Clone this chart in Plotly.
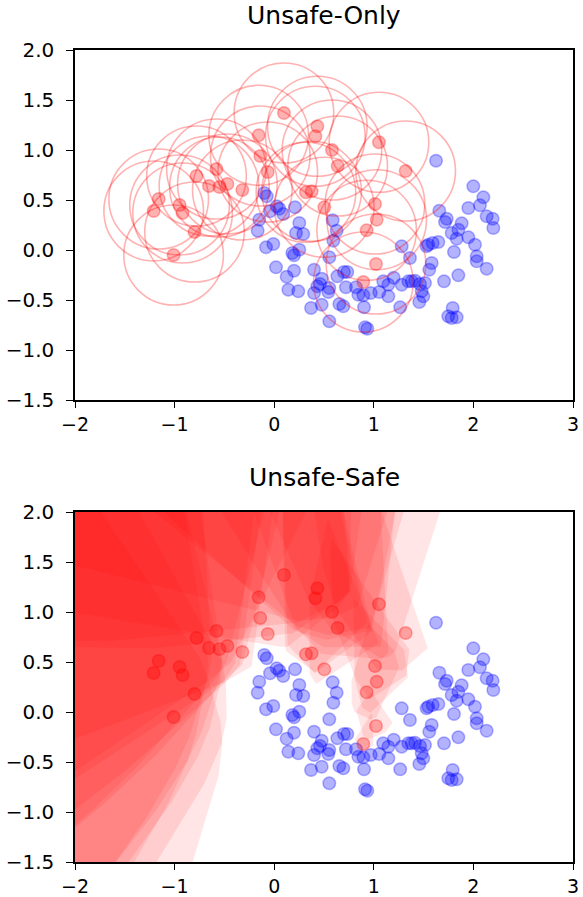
import numpy as np
import plotly.graph_objects as go

# ---------------- data ----------------
red_x = [0.098, 0.433, 0.413, -0.156, 0.58, 1.052, -0.14, 0.637, -0.065, 1.32,
         -0.58, -0.78, -0.655, -0.55, -0.47, -0.32, -1.16, -1.21, -0.95, -0.92,
         -0.80, -1.01, 0.319, 0.376, 0.503, 1.012, 1.029, 0.928, 1.022, 0.895]
red_y = [1.37, 1.237, 1.137, 1.147, 1.0, 1.077, 0.94, 0.84, 0.78, 0.79,
         0.81, 0.74, 0.64, 0.63, 0.66, 0.60, 0.51, 0.39, 0.45, 0.37,
         0.18, -0.05, 0.577, 0.587, 0.427, 0.46, 0.303, 0.197, -0.14, -0.32]

blue_x = [-0.10, -0.075, 0.025, 0.051, 0.209, -0.042, 0.091, -0.15, 0.252, 0.587,
          -0.166, 0.219, 0.292, 0.627, 0.594, -0.009, -0.082, 0.252, 0.182, 0.199,
          0.553, 0.018, 0.199, 0.40, 0.125, 0.477, 0.634, 0.70, 0.734, 0.46,
          0.433, 0.553, 0.543, 0.142, 0.242, 0.40, 0.72, 0.821, 0.845, 0.895,
          0.969, 1.095, 1.146, 1.20, 1.055, 1.146, 0.902, 0.477, 0.37, 0.654,
          0.694, 0.553, 0.912, 0.935, 1.265, 1.28,
          1.625, 1.999, 2.10, 1.949, 2.066, 1.658, 2.133, 2.193, 2.20, 1.732,
          1.715, 1.882, 1.849, 1.782, 1.949, 1.832, 2.016, 1.547, 1.591, 1.648,
          1.53, 1.805, 2.033, 2.033, 1.363, 1.581, 1.557, 2.133, 1.849, 1.705,
          1.28, 1.38, 1.414, 1.347, 1.464, 1.514, 1.481, 1.497, 1.457, 1.792,
          1.748, 1.832, 1.782]
blue_y = [0.57, 0.537, 0.437, 0.413, 0.427, 0.387, 0.36, 0.303, 0.27, 0.297,
          0.193, 0.17, 0.16, 0.193, 0.093, 0.06, 0.027, 0.003, -0.03, -0.053,
          -0.073, -0.173, -0.207, -0.197, -0.267, -0.287, -0.263, -0.22, -0.22, -0.34,
          -0.363, -0.38, -0.42, -0.397, -0.413, -0.43, -0.373, -0.373, -0.447, -0.453,
          -0.43, -0.313, -0.347, -0.277, -0.42, -0.463, -0.573, -0.547, -0.58, -0.54,
          -0.563, -0.713, -0.773, -0.787, -0.573, 0.037,
          0.893, 0.637, 0.527, 0.42, 0.447, 0.393, 0.337, 0.313, 0.22, 0.313,
          0.28, 0.267, 0.203, 0.17, 0.127, 0.113, 0.053, 0.053, 0.07, 0.08,
          0.037, -0.02, -0.063, -0.113, -0.08, -0.13, -0.197, -0.187, -0.253, -0.313,
          -0.347, -0.313, -0.307, -0.313, -0.34, -0.33, -0.413, -0.463, -0.52, -0.58,
          -0.663, -0.673, -0.68]

radius = 0.5
x_range = [-2, 3]
y_range = [-1.5, 2]
x_ticks = [-2, -1, 0, 1, 2, 3]
y_ticks = [-1.5, -1.0, -0.5, 0.0, 0.5, 1.0, 1.5, 2.0]
titles = ["Unsafe-Only", "Unsafe-Safe"]

RED_PT = "rgba(255,0,0,0.3)"
BLUE_PT = "rgba(0,0,255,0.3)"
FONT = "DejaVu Sans"

# ---------------- cells: region closer to an unsafe point than to any safe point ----------------
def clip(poly, a, b):
    """keep points p with a.p <= b"""
    out = []
    n = len(poly)
    for i in range(n):
        p = poly[i]
        q = poly[(i + 1) % n]
        fp = a @ p - b
        fq = a @ q - b
        if fp <= 0:
            out.append(p)
        if (fp < 0 < fq) or (fq < 0 < fp):
            t = fp / (fp - fq)
            out.append(p + t * (q - p))
    return out

box = [np.array([x_range[0], y_range[0]]), np.array([x_range[1], y_range[0]]),
       np.array([x_range[1], y_range[1]]), np.array([x_range[0], y_range[1]])]
B = np.column_stack([blue_x, blue_y])
cells = []
for ux, uy in zip(red_x, red_y):
    u = np.array([ux, uy])
    poly = list(box)
    for bp in B:
        a = 2 * (bp - u)
        b = bp @ bp - u @ u
        poly = clip(poly, a, b)
        if len(poly) < 3:
            break
    if len(poly) >= 3:
        cells.append(np.array(poly))

# ---------------- figure ----------------
fig = go.Figure()

for c in cells:
    xs = list(c[:, 0]) + [c[0, 0]]
    ys = list(c[:, 1]) + [c[0, 1]]
    fig.add_trace(go.Scatter(x=xs, y=ys, mode="lines", fill="toself",
                             fillcolor="rgba(255,0,0,0.1)", line=dict(width=0),
                             hoverinfo="skip", showlegend=False,
                             xaxis="x2", yaxis="y2"))

def add_points(xa, ya):
    fig.add_trace(go.Scatter(x=blue_x, y=blue_y, mode="markers",
                             marker=dict(size=12.5, color=BLUE_PT,
                                         line=dict(color=BLUE_PT, width=1.5)),
                             showlegend=False, xaxis=xa, yaxis=ya))
    fig.add_trace(go.Scatter(x=red_x, y=red_y, mode="markers",
                             marker=dict(size=12.5, color=RED_PT,
                                         line=dict(color=RED_PT, width=1.5)),
                             showlegend=False, xaxis=xa, yaxis=ya))

add_points("x", "y")
add_points("x2", "y2")

for ux, uy in zip(red_x, red_y):
    fig.add_shape(type="circle", xref="x", yref="y",
                  x0=ux - radius, x1=ux + radius, y0=uy - radius, y1=uy + radius,
                  line=dict(color="rgba(255,0,0,0.3)", width=1.6),
                  fillcolor="rgba(0,0,0,0)")

axis_common = dict(showgrid=False, zeroline=False, showline=True, mirror=True,
                   linecolor="black", linewidth=1.5, ticks="outside",
                   tickwidth=1.3, tickcolor="black", automargin=False)
x_common = dict(axis_common, ticklen=6, ticklabelstandoff=0,
                tickfont=dict(family=FONT, size=19, color="black"))
y_common = dict(axis_common, ticklen=7, ticklabelstandoff=8,
                tickfont=dict(family=FONT, size=20, color="black"))

# plot areas: x 75..573, y 50..400 and 512..862 (window px)
W, H = 583, 897
ML, MR, MT, MB = 75, 10, 50, 35
ph = H - MT - MB
top_dom = [(ph - 350) / ph, 1.0]
bot_dom = [0.0, 350 / ph]

fig.update_layout(
    width=W, height=H,
    margin=dict(l=ML, r=MR, t=MT, b=MB, autoexpand=False),
    plot_bgcolor="white", paper_bgcolor="white",
    font=dict(family=FONT, color="black"),
    xaxis=dict(range=x_range, tickvals=x_ticks, domain=[0, 1], anchor="y", **x_common),
    yaxis=dict(range=y_range, tickvals=y_ticks, tickformat=".1f", domain=top_dom,
               anchor="x", **y_common),
    xaxis2=dict(range=x_range, tickvals=x_ticks, domain=[0, 1], anchor="y2", **x_common),
    yaxis2=dict(range=y_range, tickvals=y_ticks, tickformat=".1f", domain=bot_dom,
                anchor="x2", **y_common),
    annotations=[
        dict(text=titles[0], xref="paper", yref="paper", x=0.5, y=top_dom[1],
             xanchor="center", yanchor="middle", yshift=35, showarrow=False,
             font=dict(family=FONT, size=25, color="black")),
        dict(text=titles[1], xref="paper", yref="paper", x=0.5, y=bot_dom[1],
             xanchor="center", yanchor="middle", yshift=35, showarrow=False,
             font=dict(family=FONT, size=25, color="black")),
    ],
)

fig.write_html("out.html", config={"displayModeBar": False},
               post_script="document.body.style.margin='0px';"
                           "document.body.style.overflow='hidden';")
